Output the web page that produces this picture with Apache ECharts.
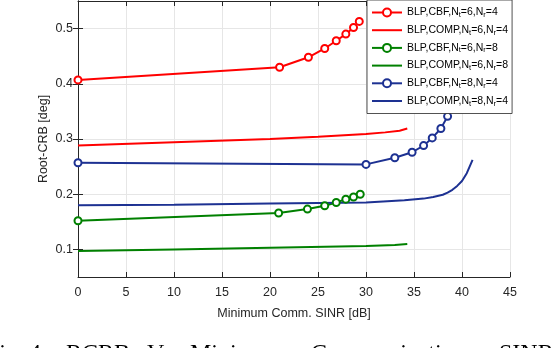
<!DOCTYPE html>
<html>
<head>
<meta charset="utf-8">
<title>Root-CRB vs SINR</title>
<script src="https://cdn.jsdelivr.net/npm/echarts@6/dist/echarts.min.js"></script>
<style>
  html, body { margin: 0; padding: 0; background: #fff; }
  #chart { width: 552px; height: 348px; }
</style>
</head>
<body>
<div id="chart"></div>
<script>
// values
var cbf64X = [0, 21, 24, 25.7, 26.9, 27.9, 28.7, 29.3];
var cbf64Y = [0.407, 0.430, 0.448, 0.464, 0.478, 0.490, 0.502, 0.513];
var comp64X = [0, 10, 20, 25, 30, 32, 33.5, 34.3];
var comp64Y = [0.288, 0.294, 0.300, 0.304, 0.309, 0.312, 0.315, 0.319];
var cbf68X = [0, 20.9, 23.9, 25.7, 26.9, 27.9, 28.7, 29.4];
var cbf68Y = [0.152, 0.166, 0.173, 0.179, 0.185, 0.191, 0.195, 0.200];
var comp68X = [0, 10, 20, 30, 33, 34.3];
var comp68Y = [0.097, 0.100, 0.103, 0.106, 0.108, 0.110];
var cbf84X = [0, 30, 33, 34.8, 36, 36.9, 37.8, 38.5];
var cbf84Y = [0.257, 0.254, 0.266, 0.276, 0.288, 0.302, 0.319, 0.341];
var comp84X = [0, 10, 20, 30, 34, 36, 37, 38, 38.5, 39, 39.5, 40, 40.5, 41.1];
var comp84Y = [0.180, 0.181, 0.183, 0.185, 0.189, 0.192, 0.195, 0.199, 0.203, 0.208, 0.215, 0.224, 0.238, 0.262];

var yTicks = [0.1, 0.2, 0.3, 0.4, 0.5];
var legendNames = ['BLP,CBF,Nt=6,Nr=4', 'BLP,COMP,Nt=6,Nr=4', 'BLP,CBF,Nt=6,Nr=8',
                   'BLP,COMP,Nt=6,Nr=8', 'BLP,CBF,Nt=8,Nr=4', 'BLP,COMP,Nt=8,Nr=4'];
var captionWords = ['Fig.', '4.', 'RCRB', 'Vs.', 'Minimum', 'Communication', 'SINR'];
var captionX = [-14, 29, 66, 147, 190, 311, 499];

function zip(xs, ys) {
  return xs.map(function (x, i) { return [x, ys[i]]; });
}

var axisColor = '#262626';
var font = 'Liberation Sans';

function mkSeries(name, xs, ys, color, marker) {
  return {
    name: name,
    type: 'line',
    data: zip(xs, ys),
    symbol: marker ? 'emptyCircle' : 'none',
    symbolSize: 7,
    showSymbol: marker,
    lineStyle: { color: color, width: 2 },
    itemStyle: { color: color, borderColor: color, borderWidth: 1.6, opacity: marker ? 1 : 0 },
    animation: false
  };
}

var chart = echarts.init(document.getElementById('chart'));

var option = {
  animation: false,
  grid: { left: 78, right: 42, top: 1, bottom: 71 },
  xAxis: [{
    type: 'value', min: 0, max: 45, interval: 5,
    name: 'Minimum Comm. SINR [dB]', nameLocation: 'middle', nameGap: 30,
    nameTextStyle: { color: axisColor, fontSize: 12.5, fontFamily: font },
    axisLine: { show: true, lineStyle: { color: axisColor, width: 1 } },
    axisTick: { show: true, inside: true, length: 5, lineStyle: { color: axisColor } },
    axisLabel: { color: axisColor, fontSize: 12.5, fontFamily: font, margin: 9 },
    splitLine: { show: true, lineStyle: { color: '#e6e6e6', width: 1 } }
  }, {
    type: 'value', min: 0, max: 45, interval: 5, position: 'top',
    axisLine: { show: true, lineStyle: { color: axisColor, width: 1 } },
    axisTick: { show: true, inside: true, length: 5, lineStyle: { color: axisColor } },
    axisLabel: { show: false },
    splitLine: { show: false }
  }],
  yAxis: [{
    type: 'value', min: 0.05, max: 0.55,
    name: 'Root-CRB [deg]', nameLocation: 'middle', nameGap: 28, nameMoveOverlap: false,
    nameTextStyle: { color: axisColor, fontSize: 12.5, fontFamily: font },
    axisLine: { show: true, lineStyle: { color: axisColor, width: 1 } },
    axisTick: { show: true, inside: true, length: 5, customValues: yTicks, lineStyle: { color: axisColor } },
    axisLabel: { color: axisColor, fontSize: 12.5, fontFamily: font, margin: 5, customValues: yTicks },
    splitLine: { show: true, lineStyle: { color: '#e6e6e6', width: 1 } }
  }, {
    type: 'value', min: 0.05, max: 0.55, position: 'right',
    axisLine: { show: true, lineStyle: { color: axisColor, width: 1 } },
    axisTick: { show: true, inside: true, length: 5, customValues: yTicks, lineStyle: { color: axisColor } },
    axisLabel: { show: false, customValues: yTicks },
    splitLine: { show: false }
  }],
  legend: {
    orient: 'vertical', left: 367, top: 0,
    padding: [7, 4, 6, 4], itemGap: 5.7, itemWidth: 30, itemHeight: 10,
    backgroundColor: '#fff', borderColor: axisColor, borderWidth: 0.8, borderRadius: 0,
    data: legendNames.map(function (n, i) {
      return i % 2 ? { name: n, itemStyle: { opacity: 0 } } : { name: n };
    }),
    formatter: function (name) {
      // "BLP,CBF,Nt=6,Nr=4" -> subscripts for t and r
      var m = name.match(/^(.*),Nt=(\d),Nr=(\d)$/);
      return '{a|' + m[1] + ',N}{s|t}{a|=' + m[2] + ',N}{s|r}{a|=' + m[3] + '}';
    },
    textStyle: {
      rich: {
        a: { fontSize: 10.5, fontFamily: font, color: '#000', lineHeight: 13 },
        s: { fontSize: 7.5, fontFamily: font, color: '#000', verticalAlign: 'bottom', lineHeight: 7 }
      }
    }
  },
  series: [
    mkSeries(legendNames[0], cbf64X, cbf64Y, '#ff0000', true),
    mkSeries(legendNames[1], comp64X, comp64Y, '#ff0000', false),
    mkSeries(legendNames[2], cbf68X, cbf68Y, '#008000', true),
    mkSeries(legendNames[3], comp68X, comp68Y, '#008000', false),
    mkSeries(legendNames[4], cbf84X, cbf84Y, '#1d3192', true),
    mkSeries(legendNames[5], comp84X, comp84Y, '#1d3192', false)
  ],
  graphic: captionWords.map(function (w, i) {
    return {
      type: 'text', left: captionX[i], top: 342,
      style: { text: w, fill: '#000', font: '24px "Liberation Serif"' }
    };
  })
};

chart.setOption(option);
</script>
</body>
</html>
